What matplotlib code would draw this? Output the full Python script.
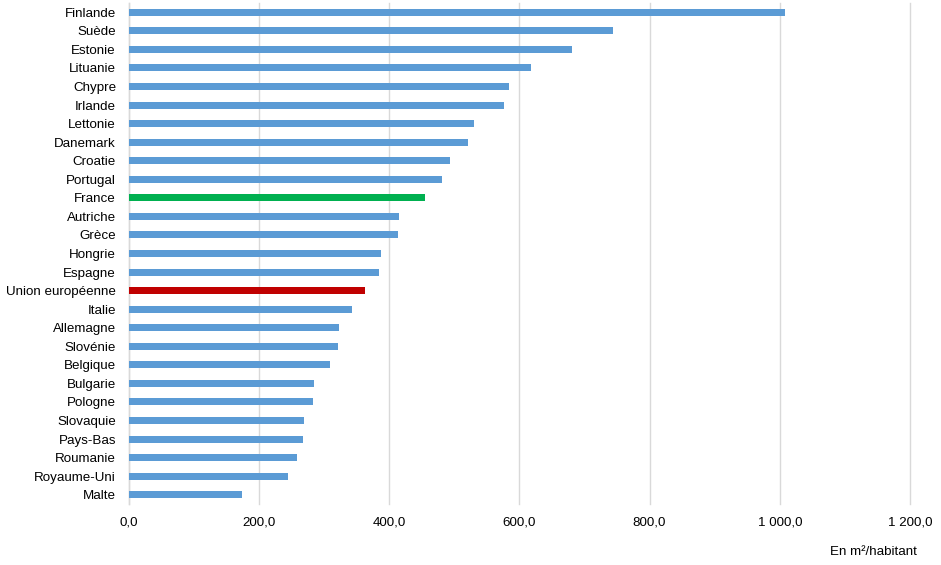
import matplotlib
matplotlib.use("Agg")
import matplotlib.pyplot as plt
from matplotlib.ticker import FuncFormatter, FixedLocator

countries = ["Finlande", "Suède", "Estonie", "Lituanie", "Chypre", "Irlande", "Lettonie",
             "Danemark", "Croatie", "Portugal", "France", "Autriche", "Grèce", "Hongrie",
             "Espagne", "Union européenne", "Italie", "Allemagne", "Slovénie", "Belgique",
             "Bulgarie", "Pologne", "Slovaquie", "Pays-Bas", "Roumanie", "Royaume-Uni", "Malte"]
values = [1008, 744, 681, 618, 584, 577, 531,
          521, 494, 482, 455, 416, 414, 388,
          385, 363, 343, 323, 322, 310,
          285, 283, 270, 268, 259, 245, 174]
x_ticks = [0, 200, 400, 600, 800, 1000, 1200]
unit_label = "En m²/habitant"

BLUE = "#5B9BD5"
GREEN = "#00B050"
RED = "#C00000"
colors = [GREEN if c == "France" else RED if c == "Union européenne" else BLUE for c in countries]

plt.rcParams["font.family"] = ["Liberation Sans", "DejaVu Sans"]
plt.rcParams["font.size"] = 9.6

fig = plt.figure(figsize=(9.41, 5.65), dpi=100)
W, H = 941, 565
left, right, top, bottom = 128.5, 910, 3, 504
ax = fig.add_axes([left / W, 1 - bottom / H, (right - left) / W, (bottom - top) / H])

ypos = list(range(len(countries)))
ax.barh(ypos, values, height=0.38, color=colors, zorder=3)
ax.set_ylim(len(countries) - 0.5, -0.5)
ax.set_xlim(0, 1200)
ax.set_yticks(ypos)
ax.set_yticklabels(countries, color="#000000")
ax.xaxis.set_major_locator(FixedLocator(x_ticks))

def fmt(v, pos):
    s = f"{v:,.1f}".replace(",", " ").replace(".", ",")
    return s
ax.xaxis.set_major_formatter(FuncFormatter(fmt))

ax.grid(axis="x", color="#D9D9D9", linewidth=1, zorder=0)
for line in ax.get_xgridlines():
    line.set_clip_on(False)
for s in ["top", "right", "bottom"]:
    ax.spines[s].set_visible(False)
ax.spines["left"].set_color("#D9D9D9")
ax.spines["left"].set_linewidth(1)
ax.tick_params(axis="both", length=0)
ax.tick_params(axis="y", pad=9)
ax.tick_params(axis="x", pad=9)

fig.text(873 / W, 1 - 552 / H, unit_label, ha="center", va="center", fontsize=9.6)

fig.savefig("out.png", dpi=100)
